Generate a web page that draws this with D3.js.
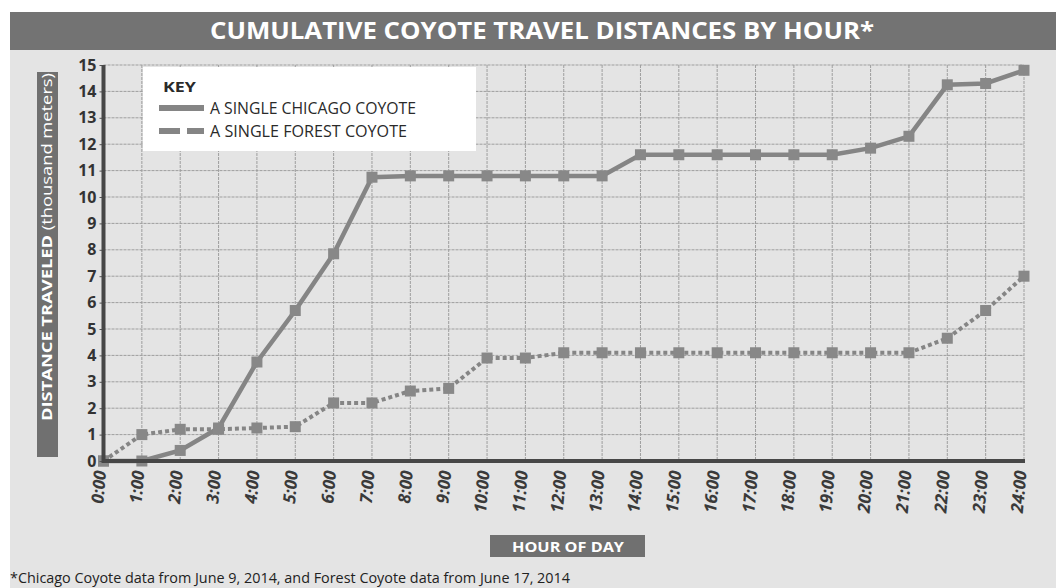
<!DOCTYPE html>
<html>
<head>
<meta charset="utf-8">
<script src="https://cdn.jsdelivr.net/npm/d3@7"></script>
<style>
  html, body { margin: 0; padding: 0; background: #ffffff; }
  svg { display: block; font-family: "Open Sans", "Noto Sans", "DejaVu Sans", sans-serif; }
</style>
</head>
<body>
<svg id="chart" width="1056" height="588"></svg>
<script>
// Hour labels along the x axis (0:00 .. 24:00)
const hourLabels = ["0:00","1:00","2:00","3:00","4:00","5:00","6:00","7:00","8:00","9:00",
  "10:00","11:00","12:00","13:00","14:00","15:00","16:00","17:00","18:00","19:00",
  "20:00","21:00","22:00","23:00","24:00"];

// Cumulative distance traveled, thousand meters
const chicagoValues = [0, 0, 0.4, 1.25, 3.75, 5.7, 7.85, 10.75, 10.8, 10.8, 10.8, 10.8, 10.8, 10.8,
  11.6, 11.6, 11.6, 11.6, 11.6, 11.6, 11.85, 12.3, 14.25, 14.3, 14.8];
const forestValues = [0, 1.0, 1.2, 1.2, 1.25, 1.3, 2.2, 2.2, 2.65, 2.75, 3.9, 3.9, 4.1, 4.1,
  4.1, 4.1, 4.1, 4.1, 4.1, 4.1, 4.1, 4.1, 4.65, 5.7, 7.0];

const yTicks = [0,1,2,3,4,5,6,7,8,9,10,11,12,13,14,15];

const seriesNames = ["A SINGLE CHICAGO COYOTE", "A SINGLE FOREST COYOTE"];

const svg = d3.select("#chart");
const W = 1056, H = 588;

const inkGray = "#858585";
const panelGray = "#e4e4e4";
const bannerGray = "#737373";

// page panel and title banner
svg.append("rect").attr("x", 10).attr("y", 50).attr("width", W - 10).attr("height", H - 50).attr("fill", panelGray);
svg.append("rect").attr("x", 10).attr("y", 12).attr("width", W - 10).attr("height", 38).attr("fill", bannerGray);
svg.append("text")
  .attr("x", 542).attr("y", 39)
  .attr("text-anchor", "middle")
  .attr("fill", "#ffffff")
  .attr("font-weight", 700)
  .attr("font-size", 23)
  .attr("textLength", 664)
  .attr("lengthAdjust", "spacingAndGlyphs")
  .text("CUMULATIVE COYOTE TRAVEL DISTANCES BY HOUR*");

// scales
const x = d3.scaleLinear().domain([0, 24]).range([103.5, 1024]);
const y = d3.scaleLinear().domain([0, 15]).range([461, 65]);

const plot = svg.append("g");

// grid
plot.append("g").selectAll("line.h")
  .data(yTicks.filter(d => d > 0))
  .join("line")
  .attr("x1", x(0)).attr("x2", x(24))
  .attr("y1", d => y(d)).attr("y2", d => y(d))
  .attr("stroke", "#9e9e9e").attr("stroke-width", 1)
  .attr("stroke-dasharray", "3,1");
plot.append("g").selectAll("line.v")
  .data(d3.range(1, hourLabels.length))
  .join("line")
  .attr("x1", d => x(d)).attr("x2", d => x(d))
  .attr("y1", y(15)).attr("y2", y(0))
  .attr("stroke", "#9e9e9e").attr("stroke-width", 1)
  .attr("stroke-dasharray", "3,1");

// legend box
const legend = svg.append("g");
legend.append("rect").attr("x", 143).attr("y", 67).attr("width", 333).attr("height", 84).attr("fill", "#ffffff");
legend.append("text").attr("x", 163).attr("y", 92)
  .attr("font-weight", 700).attr("font-size", 15).attr("fill", "#2a2a2a")
  .attr("textLength", 33).attr("lengthAdjust", "spacingAndGlyphs")
  .text("KEY");
const legendRows = [
  { name: seriesNames[0], dash: null, y: 108, len: 206 },
  { name: seriesNames[1], dash: "21,7", y: 131, len: 197 }
];
legendRows.forEach(r => {
  legend.append("line")
    .attr("x1", 159).attr("x2", 204).attr("y1", r.y).attr("y2", r.y)
    .attr("stroke", inkGray).attr("stroke-width", 6)
    .attr("stroke-dasharray", r.dash);
  legend.append("text")
    .attr("x", 210).attr("y", r.y + 6)
    .attr("font-size", 16).attr("fill", "#2a2a2a")
    .attr("textLength", r.len).attr("lengthAdjust", "spacingAndGlyphs")
    .text(r.name);
});

// series lines
const lineGen = d3.line().x((d, i) => x(i)).y(d => y(d)).curve(d3.curveLinear);

plot.append("path").datum(forestValues)
  .attr("d", lineGen)
  .attr("fill", "none").attr("stroke", inkGray)
  .attr("stroke-width", 4).attr("stroke-dasharray", "4,3");
plot.append("path").datum(chicagoValues)
  .attr("d", lineGen)
  .attr("fill", "none").attr("stroke", inkGray)
  .attr("stroke-width", 4.5);

// square markers
[forestValues, chicagoValues].forEach(vals => {
  plot.append("g").selectAll("rect")
    .data(vals)
    .join("rect")
    .attr("x", (d, i) => x(i) - 5.5).attr("y", d => y(d) - 5.5)
    .attr("width", 11).attr("height", 11)
    .attr("fill", "#888888");
});

// y axis
const yAxis = d3.axisLeft(y).tickValues(yTicks).tickFormat(d3.format("d")).tickSize(4).tickPadding(3);
const gy = svg.append("g").attr("transform", `translate(${x(0)},0)`).call(yAxis);
gy.select(".domain").remove();
gy.selectAll(".tick line").attr("stroke", "#555").attr("stroke-width", 1);
gy.selectAll(".tick text")
  .attr("font-size", 16).attr("font-weight", 700).attr("fill", "#333")
  .attr("font-family", "'Open Sans', sans-serif");

// x axis
const xAxis = d3.axisBottom(x).tickValues(d3.range(hourLabels.length)).tickFormat(i => hourLabels[i]).tickSize(0);
const gx = svg.append("g").attr("transform", `translate(0,${y(0)})`).call(xAxis);
gx.select(".domain").remove();
gx.selectAll(".tick text")
  .attr("font-size", 17).attr("font-weight", 700).attr("font-style", "italic")
  .attr("fill", "#3a3a3a")
  .attr("font-family", "'Open Sans', sans-serif")
  .attr("text-anchor", "end")
  .attr("transform", "translate(0,10) rotate(-85)")
  .attr("x", 0).attr("y", 0).attr("dy", "0.12em");

// heavy axis lines
svg.append("line").attr("x1", x(0)).attr("x2", x(0)).attr("y1", y(15)).attr("y2", y(0) + 2)
  .attr("stroke", "#474747").attr("stroke-width", 4);
svg.append("line").attr("x1", x(0)).attr("x2", x(24) + 1).attr("y1", y(0)).attr("y2", y(0))
  .attr("stroke", "#474747").attr("stroke-width", 4);

// y axis title block
svg.append("rect").attr("x", 37).attr("y", 72).attr("width", 21).attr("height", 385).attr("fill", "#707070");
const yTitle = svg.append("text")
  .attr("transform", "translate(52,247) rotate(-90)")
  .attr("text-anchor", "middle")
  .attr("fill", "#ffffff")
  .attr("font-size", 15)
  .attr("textLength", 348)
  .attr("lengthAdjust", "spacingAndGlyphs");
yTitle.append("tspan").attr("font-weight", 700).text("DISTANCE TRAVELED ");
yTitle.append("tspan").attr("font-weight", 400).text("(thousand meters)");

// x axis title block
svg.append("rect").attr("x", 490).attr("y", 535).attr("width", 155).attr("height", 22).attr("fill", "#707070");
svg.append("text")
  .attr("x", 512).attr("y", 552)
  .attr("fill", "#ffffff").attr("font-weight", 700).attr("font-size", 15)
  .attr("textLength", 112).attr("lengthAdjust", "spacingAndGlyphs")
  .text("HOUR OF DAY");

// footnote
svg.append("text")
  .attr("x", 10).attr("y", 583)
  .attr("fill", "#222").attr("font-size", 14)
  .attr("textLength", 560).attr("lengthAdjust", "spacingAndGlyphs")
  .text("*Chicago Coyote data from June 9, 2014, and Forest Coyote data from June 17, 2014");
</script>
</body>
</html>
